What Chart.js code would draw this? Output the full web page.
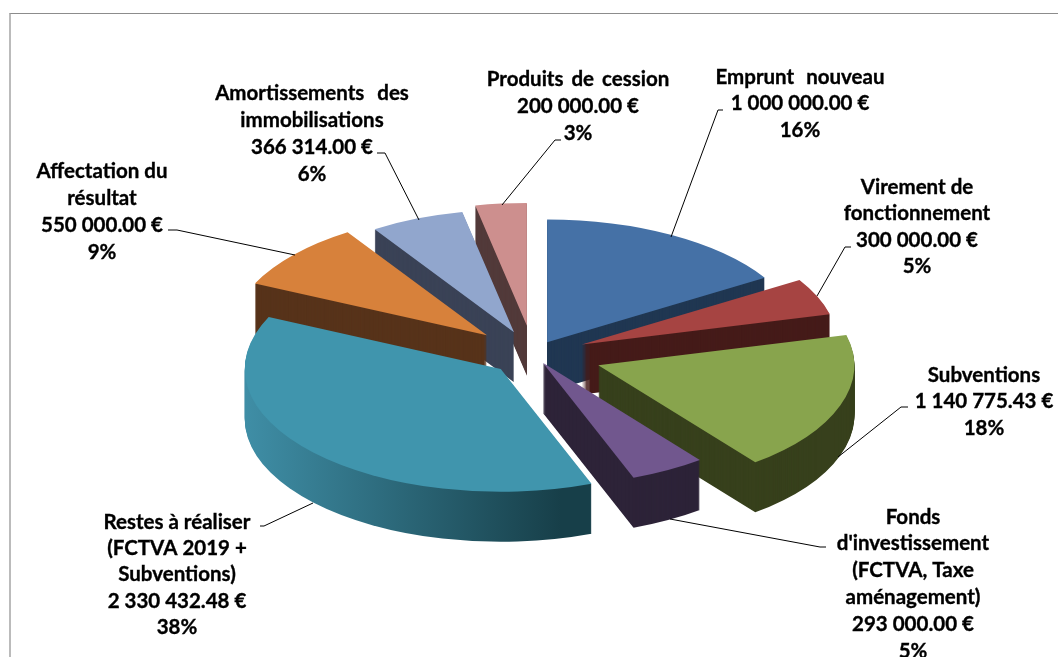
<!DOCTYPE html>
<html lang="fr">
<head>
    <meta charset="UTF-8">
    <title>Recettes d'investissement</title>
    <script src="https://cdn.jsdelivr.net/npm/chart.js"></script>
    <style>
        html, body { margin: 0; padding: 0; background: #fff; overflow: hidden; }
        #wrap { position: relative; width: 1058px; height: 657px; }
        #frame { position: absolute; left: 9px; top: 13px; right: 0; bottom: 0; border-left: 2px solid #bbb; border-top: 1px solid #8c8c8c; }
        #chart { position: absolute; left: 0; top: 0; }
    </style>
</head>
<body>
    <div id="wrap">
        <div id="frame"></div>
        <canvas id="chart" width="1058" height="657"></canvas>
    </div>

    <script>
        // data, in clockwise order starting from the top
        const categories = [
            'Emprunt nouveau', 'Virement de fonctionnement', 'Subventions',
            "Fonds d'investissement (FCTVA, Taxe aménagement)",
            'Restes à réaliser (FCTVA 2019 + Subventions)', 'Affectation du résultat',
            'Amortissements des immobilisations', 'Produits de cession'
        ];
        const values = [1000000, 300000, 1140775.43, 293000, 2330432.48, 550000, 366314, 200000];
        const nameLines = [
            ['Emprunt nouveau'],
            ['Virement de', 'fonctionnement'],
            ['Subventions'],
            ['Fonds', "d'investissement", '(FCTVA, Taxe', 'aménagement)'],
            ['Restes à réaliser', '(FCTVA 2019 +', 'Subventions)'],
            ['Affectation du', 'résultat'],
            ['Amortissements des', 'immobilisations'],
            ['Produits de cession']
        ];

        const topColors = ['#4571a6', '#a64442', '#88a44d', '#71578e', '#4095ad', '#d7813b', '#91a6cd', '#cd8f8e'];
        const sideColors = ['#203752', '#451b19', '#37401c', '#2d2338', ['#3f8ea6', '#173f49'], '#57331a', '#3a4256', '#523a3a'];
        const explode = [29, 53, 69, 20, 44, 61, 50, 60];
        const paintOrder = [7, 6, 5, 0, 1, 2, 4, 3];

        const squash = 0.48;
        const depth = 50;

        // label layout: centre x, y of the first line, line height, extra word gap on the first line
        const labelX = [800, 917, 984, 913, 177, 102, 312, 578];
        const labelY = [77, 187, 375, 517, 522, 171, 93, 79];
        const lineGap = [26.5, 26.5, 26.5, 26.8, 26.3, 27, 27, 27];
        const wordGap = [7, 0, 0, 0, 0, 0, 8, 3];
        const leaders = [
            [[723, 110], [718, 110], [671, 237]],
            [[851, 247], [845, 247], [817, 296]],
            [[908, 407], [901, 407], [838, 457]],
            [[826, 547], [820, 547], [670, 519]],
            [[260, 526], [264, 526], [313, 503]],
            [[168, 230], [177, 230], [295, 255]],
            [[377, 153], [385, 153], [419, 220]],
            [[561, 140], [555, 140], [502, 205]]
        ];

        const total = values.reduce((a, b) => a + b, 0);

        function euros(v) {
            return v.toFixed(2).replace(/\B(?=(\d{3})+(?!\d))/g, ' ') + ' €';
        }

        // extruded, squashed pie: every slice is drawn by its own arc element
        const pie3d = {
            id: 'pie3d',
            beforeDatasetDraw(chart) {
                const ctx = chart.ctx;
                const arcs = chart.getDatasetMeta(0).data;

                function drawSlice(i, color, dy) {
                    const arc = arcs[i];
                    const mid = (arc.startAngle + arc.endAngle) / 2;
                    const ox = Math.cos(mid) * explode[i];
                    const oy = Math.sin(mid) * explode[i];
                    const saved = arc.options;
                    let fill = color;
                    if (Array.isArray(color)) {
                        fill = ctx.createLinearGradient(arc.x - arc.outerRadius, 0, arc.x + 60, 0);
                        fill.addColorStop(0, color[0]);
                        fill.addColorStop(1, color[1]);
                    }
                    arc.options = { ...saved, backgroundColor: fill };
                    ctx.save();
                    ctx.translate(ox, arc.y + dy + oy * squash);
                    ctx.scale(1, squash);
                    ctx.translate(0, -arc.y);
                    arc.draw(ctx);
                    ctx.restore();
                    arc.options = saved;
                }

                paintOrder.forEach(i => {
                    for (let d = depth; d > 0; d--) {
                        drawSlice(i, sideColors[i], d);
                    }
                    drawSlice(i, topColors[i], 0);
                });
                return false;
            },
            afterDraw(chart) {
                const ctx = chart.ctx;
                ctx.save();
                ctx.strokeStyle = '#000';
                ctx.lineWidth = 1;
                leaders.forEach(pts => {
                    ctx.beginPath();
                    pts.forEach((p, k) => k ? ctx.lineTo(p[0], p[1]) : ctx.moveTo(p[0], p[1]));
                    ctx.stroke();
                });

                ctx.fillStyle = '#000';
                ctx.lineWidth = 0.35;
                ctx.font = 'bold 20.5px Lato';
                ctx.textAlign = 'center';
                ctx.textBaseline = 'middle';
                values.forEach((v, i) => {
                    const lines = nameLines[i].concat([euros(v), Math.round(v / total * 100) + '%']);
                    lines.forEach((line, k) => {
                        ctx.wordSpacing = (k === 0 ? wordGap[i] : 0) + 'px';
                        ctx.fillText(line, labelX[i], labelY[i] + k * lineGap[i]);
                        ctx.strokeText(line, labelX[i], labelY[i] + k * lineGap[i]);
                    });
                });
                ctx.restore();
            }
        };

        new Chart(document.getElementById('chart'), {
            type: 'pie',
            data: {
                labels: categories,
                datasets: [{
                    data: values,
                    backgroundColor: topColors,
                    borderWidth: 0
                }]
            },
            options: {
                responsive: false,
                animation: false,
                radius: 256,
                layout: { padding: { left: 8, top: 52 } },
                events: [],
                plugins: {
                    legend: { display: false },
                    tooltip: { enabled: false }
                }
            },
            plugins: [pie3d]
        });
    </script>
</body>
</html>
